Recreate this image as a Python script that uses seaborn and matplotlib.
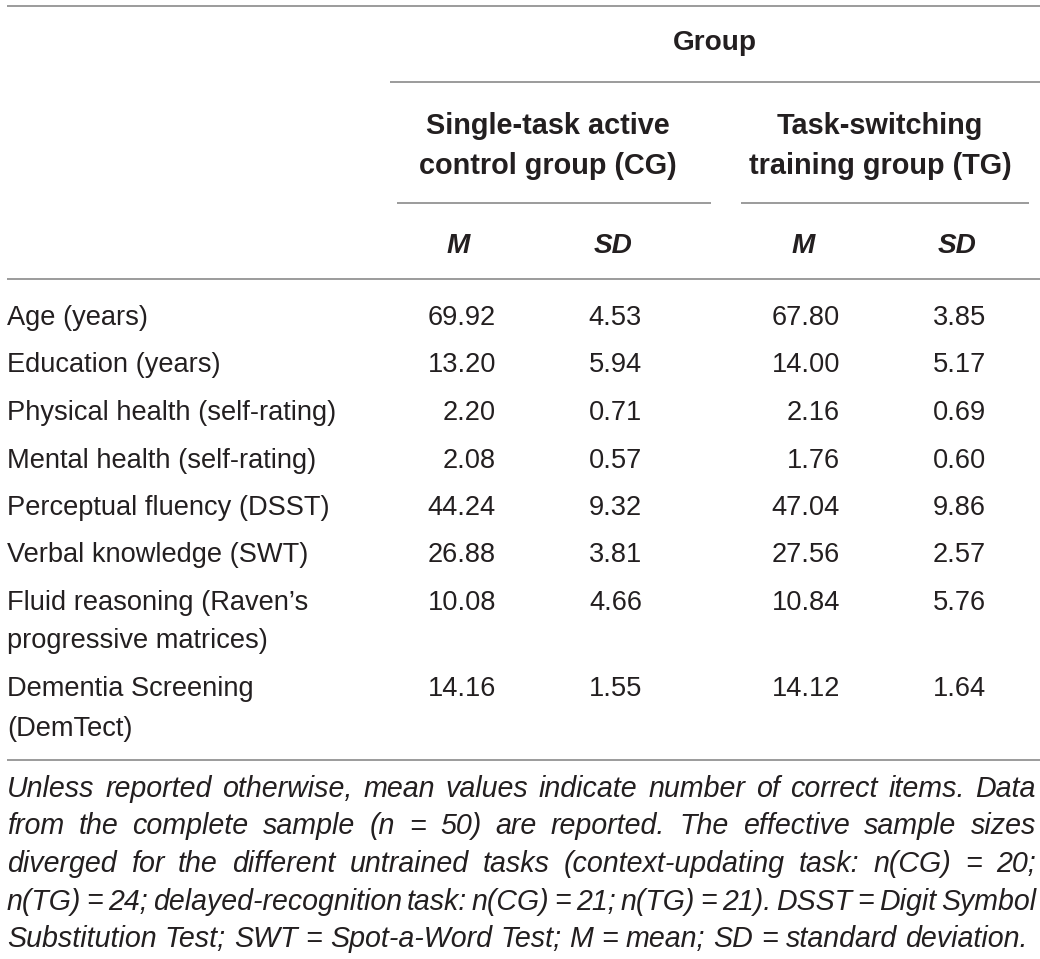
import matplotlib
matplotlib.use("Agg")
import matplotlib.pyplot as plt
import seaborn as sns

sns.set_theme(style="white")
plt.rcParams['font.family'] = ['Liberation Sans', 'DejaVu Sans']

# ---- data ----
group_title = "Group"
group_names = ["Single-task active\ncontrol group (CG)", "Task-switching\ntraining group (TG)"]
stat_labels = ["M", "SD", "M", "SD"]
row_labels = [
    "Age (years)",
    "Education (years)",
    "Physical health (self-rating)",
    "Mental health (self-rating)",
    "Perceptual fluency (DSST)",
    "Verbal knowledge (SWT)",
    "Fluid reasoning (Raven\u2019s\nprogressive matrices)",
    "Dementia Screening\n(DemTect)",
]
cg_mean = ["69.92", "13.20", "2.20", "2.08", "44.24", "26.88", "10.08", "14.16"]
cg_sd = ["4.53", "5.94", "0.71", "0.57", "9.32", "3.81", "4.66", "1.55"]
tg_mean = ["67.80", "14.00", "2.16", "1.76", "47.04", "27.56", "10.84", "14.12"]
tg_sd = ["3.85", "5.17", "0.69", "0.60", "9.86", "2.57", "5.76", "1.64"]
footnote_lines = [
    "Unless reported otherwise, mean values indicate number of correct items. Data",
    "from the complete sample (n = 50) are reported. The effective sample sizes",
    "diverged for the different untrained tasks (context-updating task: n(CG) = 20;",
    "n(TG) = 24; delayed-recognition task: n(CG) = 21; n(TG) = 21). DSST = Digit Symbol",
    "Substitution Test; SWT = Spot-a-Word Test; M = mean; SD = standard deviation.",
]

# ---- layout ----
W, H = 1040, 959
fig = plt.figure(figsize=(W / 100, H / 100), dpi=100)
ax = fig.add_axes([0, 0, 1, 1])
ax.set_xlim(0, W)
ax.set_ylim(H, 0)
ax.axis("off")

TXT = "#231f20"
LINE = "#8a8a8a"
FS = 19.6
HFS = 20.8
LW = 1.2

# rules
ax.hlines(6, 7, 1040, color=LINE, lw=LW)
ax.hlines(82, 390, 1040, color=LINE, lw=LW)
ax.hlines(203, 397, 711, color=LINE, lw=LW)
ax.hlines(203, 741, 1029, color=LINE, lw=LW)
ax.hlines(279, 7, 1040, color=LINE, lw=LW)
ax.hlines(760, 7, 1040, color=LINE, lw=LW)

# headers
ax.text(715, 50, group_title, ha="center", va="baseline", fontsize=20.2,
        fontweight="bold", color=TXT)
for cx, name in zip([548, 880], group_names):
    l1, l2 = name.split("\n")
    ax.text(cx, 134, l1, ha="center", va="baseline", fontsize=HFS,
            fontweight="bold", color=TXT)
    ax.text(cx, 174, l2, ha="center", va="baseline", fontsize=HFS,
            fontweight="bold", color=TXT)
for cx, s in zip([458, 613, 803, 957], stat_labels):
    ax.text(cx, 253, s, ha="center", va="baseline", fontsize=20.2,
            fontweight="bold", fontstyle="italic", color=TXT)

# body
base_y = [325, 372.5, 420, 467.5, 515, 562, 609.5, 696.5]
col_right = [496, 642, 840, 986]
for i, lab in enumerate(row_labels):
    y = base_y[i]
    for j, part in enumerate(lab.split("\n")):
        ax.text(7, y + j * 39, part, ha="left", va="baseline", fontsize=FS, color=TXT)
    for xr, vals in zip(col_right, [cg_mean, cg_sd, tg_mean, tg_sd]):
        ax.text(xr, y, vals[i], ha="right", va="baseline", fontsize=FS, color=TXT)

# footnote (justified)
fig.canvas.draw()
renderer = fig.canvas.get_renderer()
foot_y = [797, 834.5, 872, 909.5, 947]
left, right = 7, 1036
FFS = 20.6
MIN_GAP = 5.0
for k, line in enumerate(footnote_lines):
    y = foot_y[k]
    words = line.split(" ")
    fs = FFS
    objs = [ax.text(0, y, w, ha="left", va="baseline", fontsize=fs,
                    fontstyle="italic", color=TXT) for w in words]
    widths = [o.get_window_extent(renderer).width for o in objs]
    natural = sum(widths) + MIN_GAP * (len(words) - 1)
    if natural > right - left:
        fs = fs * (right - left - MIN_GAP * (len(words) - 1)) / sum(widths)
        for o in objs:
            o.set_fontsize(fs)
        widths = [o.get_window_extent(renderer).width for o in objs]
    if k == len(footnote_lines) - 1:
        sp = ax.text(0, y, "a a", fontsize=fs, fontstyle="italic")
        sa = ax.text(0, y, "aa", fontsize=fs, fontstyle="italic")
        gap = sp.get_window_extent(renderer).width - sa.get_window_extent(renderer).width
        sp.remove()
        sa.remove()
    else:
        gap = (right - left - sum(widths)) / (len(words) - 1)
    x = left
    for o, wd in zip(objs, widths):
        o.set_x(x)
        x += wd + gap

fig.savefig("out.png", dpi=100, facecolor="white")
